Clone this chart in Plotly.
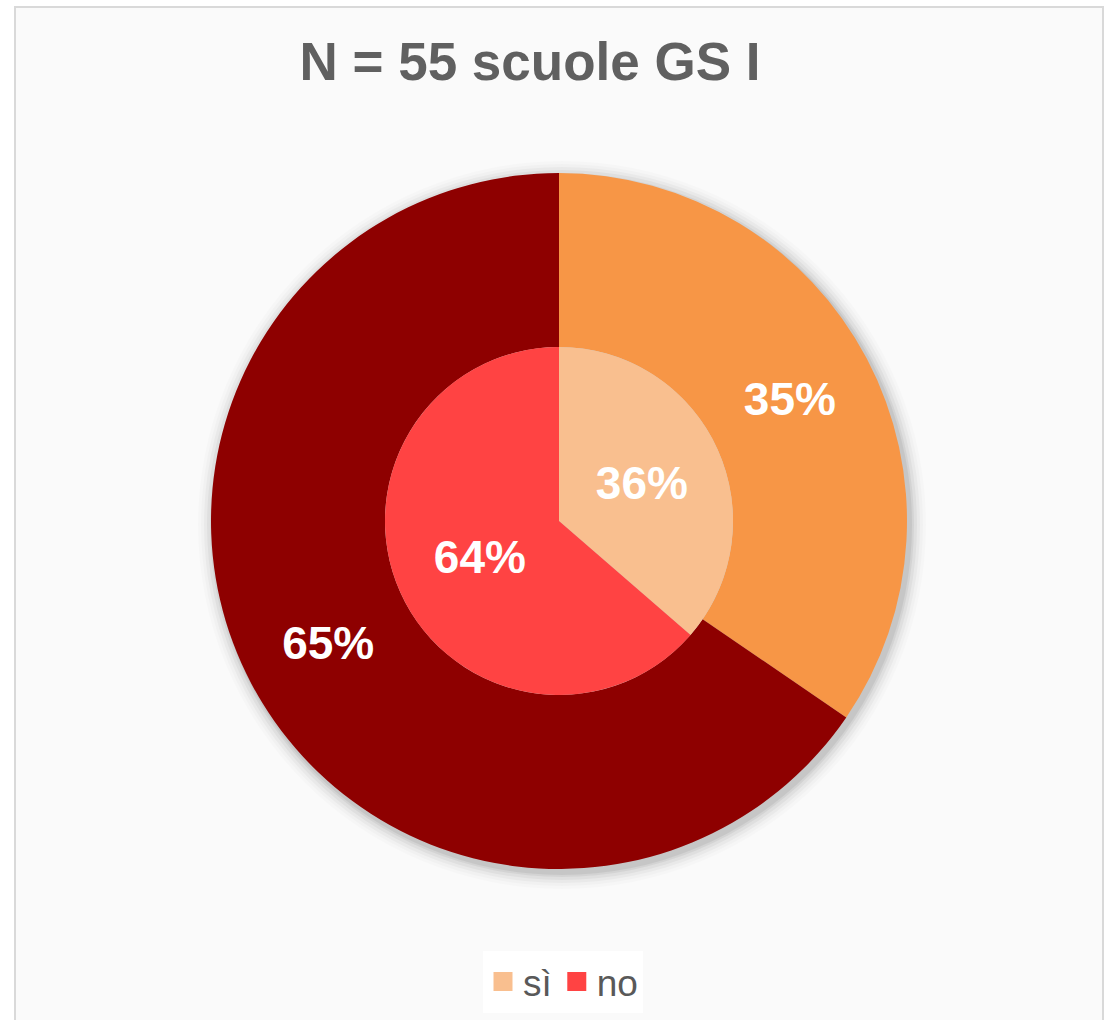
import plotly.graph_objects as go

W, H = 1106, 1020

labels = ["sì", "no"]
inner_values = [20, 35]          # 55 scuole GS I
outer_values = [19, 36]
inner_colors = ["#F9BF8F", "#FF4343"]
outer_colors = ["#F79646", "#8E0000"]
title_text = "N = 55 scuole GS I"

# geometry (reference pixels)
cx, cy = 559, 521
r_out, r_in = 348, 174


def dom(r):
    return dict(x=[(cx - r) / W, (cx + r) / W],
                y=[(H - cy - r) / H, (H - cy + r) / H])


fig = go.Figure()

fig.add_trace(go.Pie(
    labels=labels, values=outer_values, hole=r_in / r_out,
    sort=False, direction="clockwise", rotation=0,
    marker=dict(colors=outer_colors, line=dict(width=0)),
    texttemplate="%{percent:.0%}", textposition="inside",
    insidetextorientation="horizontal",
    textfont=dict(family="Liberation Sans, Arial", size=46, color="white", weight="bold"),
    domain=dom(r_out), showlegend=False, hoverinfo="label+percent",
))

fig.add_trace(go.Pie(
    labels=labels, values=inner_values,
    sort=False, direction="clockwise", rotation=0,
    marker=dict(colors=inner_colors, line=dict(width=0)),
    texttemplate="%{percent:.0%}", textposition="inside",
    insidetextorientation="horizontal",
    textfont=dict(family="Liberation Sans, Arial", size=46, color="white", weight="bold"),
    domain=dom(r_in), showlegend=False, hoverinfo="label+percent",
))

# legend entries (square markers, larger than pie legend symbols)
for lab, col in zip(labels, inner_colors):
    fig.add_trace(go.Scatter(
        x=[None], y=[None], mode="markers", name=lab,
        marker=dict(symbol="square", size=16, color=col, line=dict(color=col, width=3)),
        showlegend=True, hoverinfo="skip",
    ))

shapes = [
    dict(type="rect", xref="paper", yref="paper",
         x0=15 / W, x1=1103 / W, y0=-0.01, y1=1 - 7 / H,
         line=dict(color="#D9D9D9", width=2), fillcolor="#FAFAFA", layer="below"),
]
# soft shadow around the pie
for d, op in [(16, 0.015), (13, 0.02), (10, 0.03), (7, 0.04), (4, 0.05), (2, 0.06)]:
    rr = r_out + d
    ox, oy = 3, 4
    shapes.append(dict(type="circle", xref="paper", yref="paper",
                       x0=(cx + ox - rr) / W, x1=(cx + ox + rr) / W,
                       y0=(H - cy - oy - rr) / H, y1=(H - cy - oy + rr) / H,
                       line=dict(width=0), fillcolor="rgba(0,0,0,%s)" % op, layer="below"))

fig.update_layout(
    width=W, height=H,
    margin=dict(l=0, r=0, t=0, b=0),
    paper_bgcolor="white",
    plot_bgcolor="rgba(0,0,0,0)",
    xaxis=dict(visible=False),
    yaxis=dict(visible=False),
    shapes=shapes,
    title=dict(text=title_text, x=530 / W, xanchor="center",
               y=1 - 61 / H, yanchor="middle",
               font=dict(family="Liberation Sans, Arial", size=53, color="#606060", weight="bold")),
    legend=dict(orientation="h", x=563 / W, xanchor="center",
                y=1 - 982 / H, yanchor="middle",
                bgcolor="white", font=dict(family="Liberation Sans, Arial", size=37, color="#595959"),
                itemwidth=30, tracegroupgap=0),
)

fig.write_html("out.html",
               config={"displayModeBar": False},
               post_script="document.body.style.margin='0';document.body.style.overflow='hidden';")
